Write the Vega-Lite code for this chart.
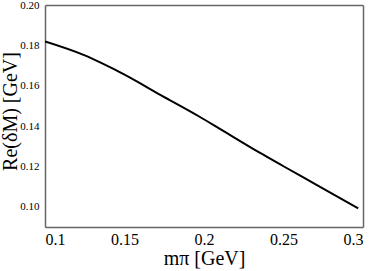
{
  "$schema": "https://vega.github.io/schema/vega-lite/v6.json",
  "autosize": "none",
  "padding": {"left": 45, "top": 5, "right": 11, "bottom": 44},
  "width": 318,
  "height": 222,
  "background": "white",
  "config": {
    "font": "Liberation Serif",
    "view": {"stroke": null},
    "axis": {
      "grid": false,
      "domainColor": "#666666",
      "domainWidth": 1.5,
      "tickColor": "#666666",
      "tickWidth": 1,
      "labelFont": "Liberation Serif",
      "titleFont": "Liberation Serif",
      "labelColor": "black",
      "titleColor": "black",
      "titleFontWeight": "normal",
      "tickSize": 0
    }
  },
  "data": {
    "values": [
      {"m": 0.1, "re": 0.1819},
      {"m": 0.125, "re": 0.175},
      {"m": 0.135, "re": 0.1714},
      {"m": 0.15, "re": 0.1655},
      {"m": 0.1725, "re": 0.1555},
      {"m": 0.1975, "re": 0.1445},
      {"m": 0.21, "re": 0.1386},
      {"m": 0.235, "re": 0.1268},
      {"m": 0.25, "re": 0.1201},
      {"m": 0.273, "re": 0.1099},
      {"m": 0.297, "re": 0.0992}
    ]
  },
  "layer": [
    {
      "mark": {"type": "line", "color": "black", "strokeWidth": 2, "interpolate": "monotone", "clip": true},
      "encoding": {
        "x": {
          "field": "m", "type": "quantitative",
          "scale": {"domain": [0.1, 0.3], "nice": false, "zero": false},
          "axis": {
            "orient": "bottom",
            "title": "mπ [GeV]",
            "titleFont": "Liberation Serif",
            "titleFontSize": 20,
            "titleBaseline": "alphabetic",
            "titleY": 37,
            "labelFont": "Liberation Serif",
            "labelFontSize": 16,
            "labelPadding": 4,
            "values": [0.1, 0.125, 0.15, 0.175, 0.2, 0.225, 0.25, 0.275, 0.3],
            "labelExpr": "abs(datum.value*20 - round(datum.value*20)) < 0.01 ? format(datum.value, '~g') : ''",
            "encode": {
              "labels": {"update": {"font": {"value": "Liberation Serif"}}},
              "ticks": {"update": {"y2": {"signal": "abs(datum.value*20 - round(datum.value*20)) < 0.01 ? -6 : -4"}}}
            }
          }
        },
        "y": {
          "field": "re", "type": "quantitative",
          "scale": {"domain": [0.09, 0.2], "nice": false, "zero": false},
          "axis": {
            "orient": "left",
            "title": "Re(δM) [GeV]",
            "titleFont": "Liberation Serif",
            "titleFontSize": 20,
            "titleBaseline": "middle",
            "titleX": -35,
            "titleY": 106,
            "labelFont": "Liberation Serif",
            "labelFontSize": 11,
            "labelPadding": 6,
            "values": [0.1, 0.11, 0.12, 0.13, 0.14, 0.15, 0.16, 0.17, 0.18, 0.19, 0.2],
            "labelExpr": "abs(datum.value*50 - round(datum.value*50)) < 0.01 ? format(datum.value, '.2f') : ''",
            "encode": {
              "labels": {"update": {"font": {"value": "Liberation Serif"}}},
              "ticks": {"update": {"x2": {"signal": "abs(datum.value*50 - round(datum.value*50)) < 0.01 ? 6 : 4"}}}
            }
          }
        }
      }
    },
    {
      "mark": {"type": "line", "opacity": 0},
      "encoding": {
        "x": {
          "field": "m", "type": "quantitative",
          "scale": {"domain": [0.1, 0.3], "nice": false, "zero": false},
          "axis": {
            "orient": "top", "title": null, "labels": false,
            "values": [0.1, 0.125, 0.15, 0.175, 0.2, 0.225, 0.25, 0.275, 0.3],
            "encode": {"ticks": {"update": {"y2": {"signal": "abs(datum.value*20 - round(datum.value*20)) < 0.01 ? 6 : 4"}}}}
          }
        },
        "y": {
          "field": "re", "type": "quantitative",
          "scale": {"domain": [0.09, 0.2], "nice": false, "zero": false},
          "axis": {
            "orient": "right", "title": null, "labels": false,
            "values": [0.1, 0.11, 0.12, 0.13, 0.14, 0.15, 0.16, 0.17, 0.18, 0.19, 0.2],
            "encode": {"ticks": {"update": {"x2": {"signal": "abs(datum.value*50 - round(datum.value*50)) < 0.01 ? -6 : -4"}}}}
          }
        }
      }
    }
  ],
  "resolve": {"axis": {"x": "independent", "y": "independent"}}
}
